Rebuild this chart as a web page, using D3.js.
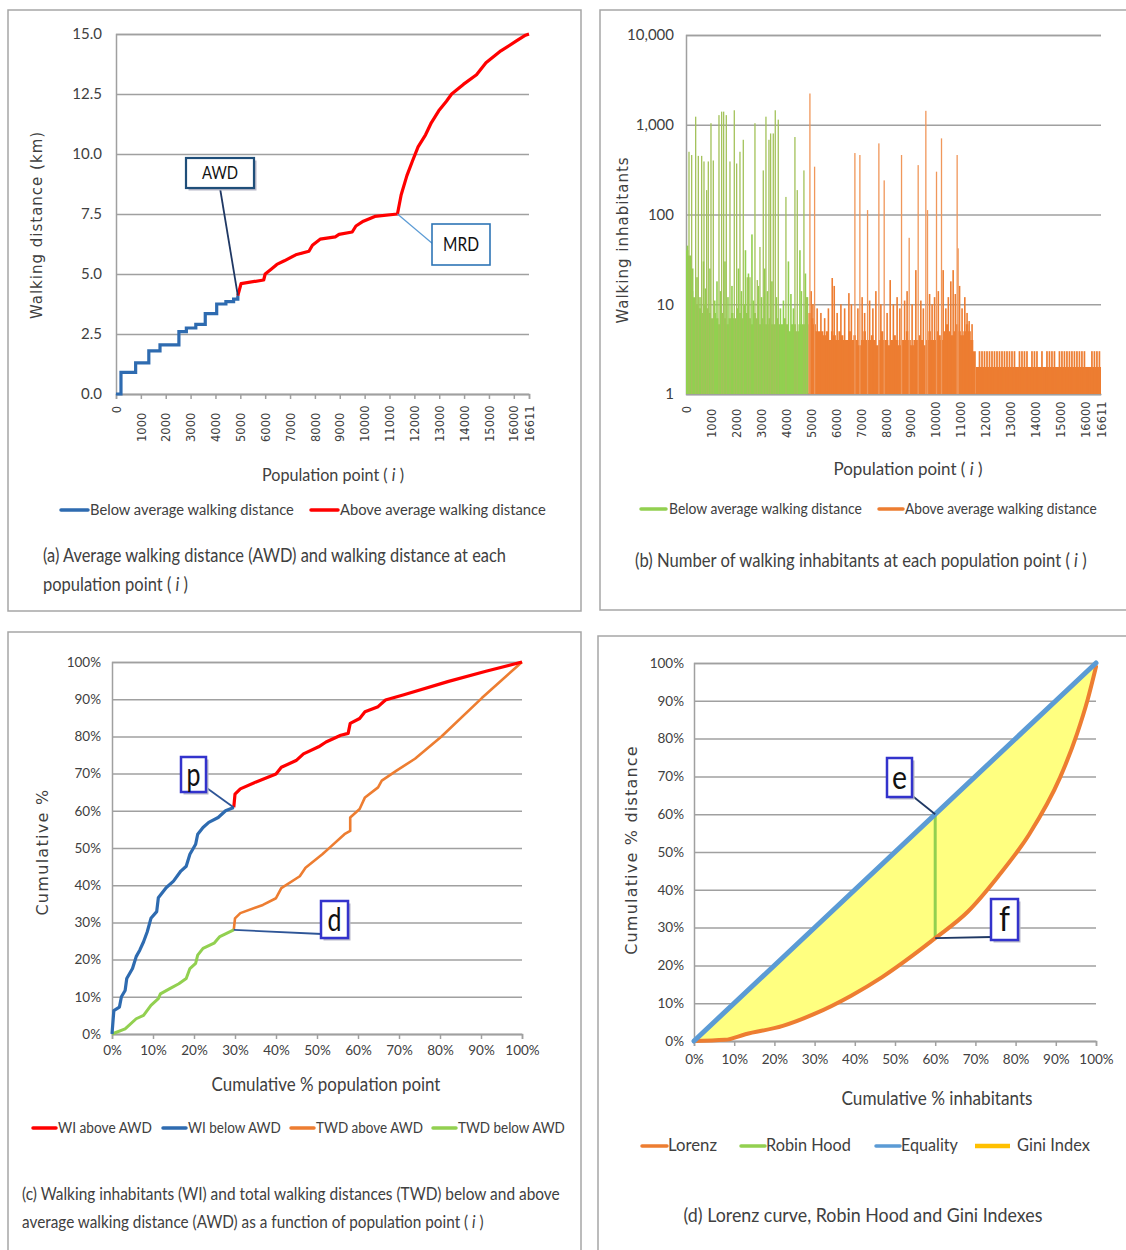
<!DOCTYPE html>
<html><head><meta charset="utf-8">
<script src="https://cdn.jsdelivr.net/npm/d3@7"></script>
<style>body{margin:0;background:#fff} svg{display:block}</style>
</head><body>
<svg id="c" width="1126" height="1250"></svg>
<script>
// ================= DATA =================
// Panel (a): walking distance at each population point
const popTicks = [0,1000,2000,3000,4000,5000,6000,7000,8000,9000,10000,11000,12000,13000,14000,15000,16000,16611];
const distTicks = [0,2.5,5,7.5,10,12.5,15];
const belowPoint = [0,200,790,1320,1770,2530,2830,3210,3590,4050,4420,4730,4900];
const belowDist  = [0,0.9,1.3,1.8,2.05,2.6,2.75,2.9,3.35,3.75,3.85,3.95,4.1];
const abovePoint = [4900,5030,5940,6000,6240,6470,6770,7230,7760,7900,8210,8820,8970,9500,9650,9950,10410,11320,11470,11700,11920,12150,12450,12680,12980,13290,13500,13970,14500,14880,15480,16090,16470,16611];
const aboveDist  = [4.1,4.6,4.75,5.0,5.2,5.4,5.55,5.8,5.95,6.2,6.45,6.55,6.65,6.75,7.0,7.2,7.4,7.5,8.3,9.1,9.7,10.3,10.8,11.3,11.8,12.2,12.5,12.9,13.3,13.8,14.3,14.7,14.95,15.0];
const awdPoint = 4900, awdDist = 4.1, mrdPoint = 11320, mrdDist = 7.5;

// Panel (b): walking inhabitants (log scale)
const inhabTicks = [1,10,100,1000,10000];
const binStep = 100;
const greenBaseStart = 0;
const greenBase = [40,35,25,12,10,9,8,10,9,8, 7,8,7,6,8,7,6,7,8,7, 9,8,7,10,8,7,6,8,7,6, 7,6,6,7,6,6,7,6,6,7, 6,5,6,6,5,6,6,6,6];
const greenTallIdx = [120,227,387,493,627,720,827,893,1000,1093,1320,1427,1507,1613,1760,1933,2027,2160,2293,2453,2560,2760,2853,2960,3093,3200,3320,3387,3493,3573,3693,4000,4360,4453,4720,4827];
const greenTallVal = [500,460,1230,450,450,390,187,390,1040,400,1280,1400,1400,1280,390,1450,370,500,680,20,20,1040,18.6,43.5,310,1230,680,800,800,1450,1140,157,730,187,310,12];
const greenMidIdx = [60,160,260,440,560,700,780,960,1150,1240,1380,1560,1680,1840,2100,2220,2380,2500,2640,2700,2900,3020,3150,3260,3440,3620,3780,3900,4100,4200,4300,4560,4620,4780,4860];
const greenMidVal = [45,25,14,20,12,30,15,25,11,18,14,30,12,16,25,14,40,22,60,11,16,12,25,14,18,12,9,11,30,13,9,40,14,22,12];
const orangeBaseStart = 4900;
const orangeBase = [8,7,6,5,5,5,4.5,5,4,5, 4.5,4,5,4.5,4,4,5,4,4.5,4, 3.5,4,5,4,4,4.5,4,3.5,4,5, 4,4,3.5,4,4.5,4,3.5,4,4,5, 4,3.5,4,4,4.5,4,3.5,4,5,4, 4,5,4.5,4,5,6,5,4.5,5,6, 5,4.5,5,6,5,4,3];
const orangeTallIdx = [4960,5147,6760,6960,7267,7720,7933,8627,8933,9293,9600,9667,10027,10227,10853,10893];
const orangeTallVal = [2230,341,484,460,112,620,240,460,55,355,1430,112,300,705,460,42];
const orangeMidIdx = [5010,5080,5250,5400,5550,5700,5853,5933,6050,6200,6350,6520,6620,6880,7050,7150,7350,7480,7600,7800,8050,8173,8300,8450,8560,8750,8850,9050,9200,9400,9500,9750,9850,9950,10100,10293,10400,10500,10600,10693,10780,10950,11050,11160,11250,11333,11450];
const orangeMidVal = [14,10,9,8,7,9,19.6,16,8,10,9,13.3,10,9,12,8,11,9,14,10,8,18.6,10,12,9,11,14,10,24,11,9,13,10,12,14,24,9,12,18,24,13,16,9,12,8,6.5,6];
const tailStart = 11600, tailEnd = 16611, tailFloor = 2;
const tailTop = [2,3,3,3,3,3,3,3,3,3, 3,3,3,3,3,3,2,3,3,3, 3,2,3,3,3,2,3,2,3,3, 3,3,2,3,3,3,3,3,3,3, 3,3,3,3,2,2,3,3,3,3];

// Panel (c): cumulative %
const pctTicks = [0,10,20,30,40,50,60,70,80,90,100];
const wiBelowX = [0,0.45,1.8,2.3,3.2,3.6,5,5.9,6.8,7.7,8.6,9.5,10.9,11.3,13.2,15,16.8,18.1,19,20.4,20.9,22.2,23.6,25.9,27.7,29.7];
const wiBelowY = [0,6.3,7.2,10,11.7,14.9,17.6,20.8,22.6,24.8,27.5,31.1,32.9,36.6,39.3,41.1,43.8,45.1,48.3,51,53.7,55.5,56.9,58.2,60,60.9];
const wiAboveX = [29.7,30,31.3,35,40,41.3,44.9,46.7,50.4,52.2,55.8,57.6,58.1,60.4,61.7,64.9,66.7,71.2,82.1,91.2,100];
const wiAboveY = [60.9,64.5,65.9,67.7,69.9,71.7,73.5,75.3,77.2,78.5,80.3,80.8,83.5,84.8,86.6,88,89.8,91.2,94.8,97.5,100];
const twdBelowX = [0,3.2,5.9,7.7,9.5,11.3,11.8,14.1,16.3,18.1,19,20.4,20.9,22.2,24.9,26.3,29.7];
const twdBelowY = [0,1.4,4.1,5,7.7,9.5,10.8,12.2,13.5,14.9,17.6,19,21.2,23,24.4,26.2,28];
const twdAboveX = [29.7,30,31.3,36.8,40,41.3,45.8,47.2,51.3,53.1,56.7,58.1,58.1,60.4,61.7,64.9,65.8,69.4,73.9,80.3,90.2,100];
const twdAboveY = [28,31.1,32.5,34.7,36.5,39.2,42.4,44.7,48.3,50.1,53.7,54.6,58.2,60.5,63.6,66.3,68.1,70.8,74,79.9,90.3,100];

// Panel (d): Lorenz / Robin Hood / Equality
const lorenzX = [0,7.7,12.8,22.1,29.8,39.1,46.8,54.5,60,68.1,75.7,83.4,91.1,95.3,97.9,100];
const lorenzY = [0,0.3,1.8,4,7.1,12,16.9,22.7,27.2,34.2,43.6,54.7,69.8,81.3,90.2,99];
const equalityX = [0,100], equalityY = [0,100];
const robinHoodX = [60,60], robinHoodY = [60,27.2];

// ================= DRAWING =================
const svg = d3.select('#c');
const NARROW = "Lato,'Liberation Sans',sans-serif";
const DEJ = "'DejaVu Sans',Verdana,sans-serif";
const TXT = '#404040';
const GRID = '#a0a0a0';
const zip = (a,b) => a.map((v,i)=>[v,b[i]]);

function frame(x,y,w,h){
  svg.append('rect').attr('x',x).attr('y',y).attr('width',w).attr('height',h)
    .attr('fill','none').attr('stroke','#a6a6a6').attr('stroke-width',1.5);
}
frame(8,10,573,601); frame(600,10,540,600); frame(8,632,573,650); frame(598,636,540,650);

// text helper: optional target width (len) achieved by horizontal condensing
function text(x,y,str,o={}){
  const g = svg.append('g');
  const t = g.append('text').attr('x',0).attr('y',0)
    .attr('font-family',o.font||NARROW).attr('font-size',o.size||15)
    .attr('fill',o.fill||TXT).attr('text-anchor',o.anchor||'start');
  if(o.spacing) t.attr('letter-spacing',o.spacing);
  if(o.weight) t.attr('font-weight',o.weight);
  if(Array.isArray(str)){
    str.forEach(s=>{
      if(typeof s==='string') t.append('tspan').text(s);
      else t.append('tspan').attr('font-style','italic').text(s.t);
    });
  } else t.text(str);
  let tr = `translate(${x},${y})`;
  if(o.rotate) tr += ` rotate(${o.rotate})`;
  if(o.len){ const w = t.node().getComputedTextLength(); if(w>0) tr += ` scale(${o.len/w},1)`; }
  g.attr('transform',tr);
  return t;
}
function legendItem(x1,x2,y,color,label,tx,o={}){
  svg.append('line').attr('x1',x1).attr('x2',x2).attr('y1',y).attr('y2',y)
    .attr('stroke',color).attr('stroke-width',o.w||3.5).attr('stroke-linecap','round');
  text(tx,y+5,label,{size:o.size||16,len:o.len});
}
function styleAxis(g){
  g.select('.domain').attr('stroke',GRID).attr('stroke-width',1.5);
  g.selectAll('.tick line').attr('stroke',GRID).attr('stroke-width',1.5);
  g.selectAll('text').attr('fill',TXT);
}
function rotLabels(g,bottomY,axisY){
  g.selectAll('.tick text').each(function(d,i){
    const t=d3.select(this);
    t.attr('y',0).attr('x',0).attr('dy','0.36em')
     .attr('font-family',DEJ).attr('font-size',11.5);
    if(d===0){ t.attr('text-anchor','end').attr('transform',`translate(0,${axisY+12}) rotate(-90)`); }
    else { t.attr('text-anchor','start').attr('transform',`translate(0,${bottomY}) rotate(-90)`); }
  });
}
function box(x,y,w,h,label,o){
  if(o.shadow) svg.append('rect').attr('x',x+2.5).attr('y',y+2.5).attr('width',w).attr('height',h).attr('fill','#b8b8c8');
  svg.append('rect').attr('x',x).attr('y',y).attr('width',w).attr('height',h)
    .attr('fill','#fff').attr('stroke',o.stroke).attr('stroke-width',o.sw);
  text(x+w/2,y+h/2+o.size*0.35,label,{anchor:'middle',size:o.size,fill:'#111',font:o.font||NARROW,weight:o.weight,len:o.len});
}
function leader(x1,y1,x2,y2,color,w){
  svg.append('line').attr('x1',x1).attr('y1',y1).attr('x2',x2).attr('y2',y2)
    .attr('stroke',color).attr('stroke-width',w);
}
function tickFont(g){ g.selectAll('.tick text').attr('font-family',NARROW).attr('font-size',13.5); }

// ---------- Panel (a) ----------
{
  const x = d3.scaleLinear().domain([0,16611]).range([116,529]);
  const y = d3.scaleLinear().domain([0,15]).range([394,34]);
  const gy = svg.append('g').attr('transform','translate(116,0)')
    .call(d3.axisLeft(y).tickValues(distTicks).tickFormat(d3.format('.1f')).tickSize(-(529-116)).tickPadding(14));
  styleAxis(gy); gy.selectAll('text').attr('font-family',NARROW).attr('font-size',15);
  const gx = svg.append('g').attr('transform','translate(0,394)')
    .call(d3.axisBottom(x).tickValues(popTicks).tickFormat(d3.format('d')).tickSize(5));
  styleAxis(gx); rotLabels(gx,48,0);
  svg.append('path').datum(zip(belowPoint,belowDist)).attr('d',d3.line().curve(d3.curveStepAfter).x(d=>x(d[0])).y(d=>y(d[1])))
    .attr('fill','none').attr('stroke','#2E6BB0').attr('stroke-width',3.2);
  svg.append('path').datum(zip(abovePoint,aboveDist)).attr('d',d3.line().x(d=>x(d[0])).y(d=>y(d[1])))
    .attr('fill','none').attr('stroke','#FF0000').attr('stroke-width',3.2).attr('stroke-linejoin','round');
  // annotations
  leader(220,188,x(awdPoint),y(awdDist),'#1F3864',1.8);
  box(186,158,68,30,'AWD',{stroke:'#1F4E79',sw:2.2,size:18,shadow:true,len:36});
  leader(x(mrdPoint),y(mrdDist),433,244,'#5B9BD5',1.2);
  box(432,224,58,41,'MRD',{stroke:'#2E75B6',sw:1.6,size:19,shadow:false,len:36});
  text(42,225,'Walking distance (km)',{font:DEJ,size:15,spacing:1,rotate:-90,anchor:'middle'});
  text(333,481,['Population point ( ',{t:'i'},' )'],{size:18,anchor:'middle',len:142});
  legendItem(61,88,510,'#2E6BB0','Below average walking distance',90,{len:204});
  legendItem(311,338,510,'#FF0000','Above average walking distance',340,{len:206});
  text(43,562,'(a) Average walking distance (AWD) and walking distance at each',{size:19,len:463});
  text(43,591,['population point ( ',{t:'i'},' )'],{size:19,len:145});
}

// ---------- Panel (b) ----------
{
  const x = d3.scaleLinear().domain([0,16611]).range([686,1101]);
  const y = d3.scaleLog().domain([1,10000]).range([394,35]);
  const gy = svg.append('g').attr('transform','translate(686,0)')
    .call(d3.axisLeft(y).tickValues(inhabTicks).tickFormat(d3.format(',')).tickSize(-(1101-686)).tickPadding(12));
  styleAxis(gy); gy.selectAll('text').attr('font-family',NARROW).attr('font-size',15);
  const gx = svg.append('g').attr('transform','translate(0,394)')
    .call(d3.axisBottom(x).tickValues(popTicks).tickFormat(d3.format('d')).tickSize(0));
  styleAxis(gx); rotLabels(gx,44,0);

  const GREEN='#92D050', GREEN_S='#A3C25A', ORANGE='#ED7D31', ORANGE_S='#F0975A';
  const stepArea = (start,vals,end) => {
    const pts = vals.map((v,i)=>[start+i*binStep,v]); pts.push([end,vals[vals.length-1]]);
    return d3.area().curve(d3.curveStepAfter).x(d=>x(d[0])).y0(y(1)).y1(d=>y(d[1]))(pts);
  };
  const spikes = (idx,vals,color,w) => {
    svg.append('g').selectAll('rect').data(zip(idx,vals)).join('rect')
      .attr('x',d=>x(d[0])-w/2).attr('width',w)
      .attr('y',d=>y(d[1])).attr('height',d=>y(1)-y(d[1])).attr('fill',color);
  };
  svg.append('path').attr('d',stepArea(greenBaseStart,greenBase,orangeBaseStart)).attr('fill',GREEN);
  spikes(greenMidIdx,greenMidVal,GREEN,1.6);
  spikes(greenTallIdx,greenTallVal,GREEN_S,1.3);
  svg.append('path').attr('d',stepArea(orangeBaseStart,orangeBase,tailStart)).attr('fill',ORANGE);
  spikes(orangeMidIdx,orangeMidVal,ORANGE,1.6);
  spikes(orangeTallIdx,orangeTallVal,ORANGE_S,1.3);
  // tail: floor plus comb of bars
  svg.append('rect').attr('x',x(tailStart)).attr('width',x(tailEnd)-x(tailStart))
    .attr('y',y(tailFloor)).attr('height',y(1)-y(tailFloor)).attr('fill',ORANGE);
  const bw = x(binStep)-x(0);
  svg.append('g').selectAll('rect').data(tailTop.map((v,i)=>[tailStart+i*binStep,v])).join('rect')
    .attr('x',d=>x(d[0])+0.35).attr('width',bw-0.8)
    .attr('y',d=>y(d[1])).attr('height',d=>y(1)-y(d[1])).attr('fill',ORANGE);

  text(628,240,'Walking inhabitants',{font:DEJ,size:15,spacing:1,rotate:-90,anchor:'middle'});
  text(908,475,['Population point (  ',{t:'i'},' )'],{size:18,anchor:'middle',len:149});
  legendItem(641,666,509,GREEN,'Below average walking distance',669,{len:193});
  legendItem(879,903,509,ORANGE,'Above average walking distance',905,{len:192});
  text(635,567,['(b)  Number of walking inhabitants at each population point ( ',{t:'i'},' )'],{size:19,len:452});
}

// ---------- Panel (c) ----------
{
  const x = d3.scaleLinear().domain([0,100]).range([112,522]);
  const y = d3.scaleLinear().domain([0,100]).range([1034,662]);
  const fmt = d=>d+'%';
  const gy = svg.append('g').attr('transform','translate(112,0)')
    .call(d3.axisLeft(y).tickValues(pctTicks).tickFormat(fmt).tickSize(-(522-112)).tickPadding(11));
  styleAxis(gy); tickFont(gy);
  const gx = svg.append('g').attr('transform','translate(0,1034)')
    .call(d3.axisBottom(x).tickValues(pctTicks).tickFormat(fmt).tickSize(5).tickPadding(6));
  styleAxis(gx); tickFont(gx);
  const line = d3.line().x(d=>x(d[0])).y(d=>y(d[1]));
  const draw=(xs,ys,c,w)=>svg.append('path').datum(zip(xs,ys)).attr('d',line)
    .attr('fill','none').attr('stroke',c).attr('stroke-width',w).attr('stroke-linejoin','round');
  draw(twdAboveX,twdAboveY,'#ED7D31',2.6);
  draw(twdBelowX,twdBelowY,'#92D050',3);
  draw(wiAboveX,wiAboveY,'#FF0000',3.2);
  draw(wiBelowX,wiBelowY,'#2E6BB0',3.2);
  // labels
  leader(204,786,x(wiBelowX[wiBelowX.length-1]),y(wiBelowY[wiBelowY.length-1]),'#2E5597',1.8);
  box(181,757,25,35,'p',{stroke:'#3333CC',sw:2.5,size:32,shadow:true,len:14});
  leader(322,934,x(twdBelowX[twdBelowX.length-1]),y(twdBelowY[twdBelowY.length-1]),'#2E5597',1.8);
  box(321,901,27,37,'d',{stroke:'#3333CC',sw:2.5,size:32,shadow:true,len:14});
  text(48,852,'Cumulative %',{font:DEJ,size:16,spacing:1.3,rotate:-90,anchor:'middle'});
  text(326,1091,'Cumulative % population point',{size:20,anchor:'middle',len:229});
  legendItem(33,56,1128,'#FF0000','WI above AWD',58,{len:94,size:16});
  legendItem(163,186,1128,'#2E6BB0','WI below AWD',188,{len:93,size:16});
  legendItem(291,314,1128,'#ED7D31','TWD above AWD',316,{len:107,size:16});
  legendItem(433,456,1128,'#92D050','TWD below AWD',458,{len:107,size:16});
  text(22,1200,'(c)  Walking inhabitants (WI)  and total walking distances (TWD) below and above',{size:18,len:538});
  text(22,1228,['average walking distance (AWD)  as a function  of population point ( ',{t:'i'},' )'],{size:18,len:462});
}

// ---------- Panel (d) ----------
{
  const x = d3.scaleLinear().domain([0,100]).range([694,1096]);
  const y = d3.scaleLinear().domain([0,100]).range([1041,663]);
  const fmt = d=>d+'%';
  const gy = svg.append('g').attr('transform','translate(694,0)')
    .call(d3.axisLeft(y).tickValues(pctTicks).tickFormat(fmt).tickSize(-(1096-694)).tickPadding(10));
  styleAxis(gy); tickFont(gy);
  const gx = svg.append('g').attr('transform','translate(0,1041)')
    .call(d3.axisBottom(x).tickValues(pctTicks).tickFormat(fmt).tickSize(5).tickPadding(8));
  styleAxis(gx); tickFont(gx);
  const eq = d3.scaleLinear().domain(equalityX).range(equalityY);
  const lor = zip(lorenzX,lorenzY);
  svg.append('path').datum(lor)
    .attr('d',d3.area().curve(d3.curveMonotoneX).x(d=>x(d[0])).y0(d=>y(d[1])).y1(d=>y(eq(d[0]))))
    .attr('fill','#FFFF80');
  svg.append('path').datum(zip(robinHoodX,robinHoodY)).attr('d',d3.line().x(d=>x(d[0])).y(d=>y(d[1])))
    .attr('stroke','#92D050').attr('stroke-width',3).attr('fill','none');
  svg.append('path').datum(lor).attr('d',d3.line().curve(d3.curveMonotoneX).x(d=>x(d[0])).y(d=>y(d[1])))
    .attr('stroke','#ED7D31').attr('stroke-width',4).attr('fill','none').attr('stroke-linecap','round');
  svg.append('path').datum(zip(equalityX,equalityY)).attr('d',d3.line().x(d=>x(d[0])).y(d=>y(d[1])))
    .attr('stroke','#5B9BD5').attr('stroke-width',5).attr('fill','none').attr('stroke-linecap','round');
  leader(910,794,x(robinHoodX[0]),y(robinHoodY[0]),'#1F3864',1.8);
  box(887,758,25,39,'e',{stroke:'#3333CC',sw:2.5,size:32,shadow:true,len:15});
  leader(x(robinHoodX[1]),y(robinHoodY[1]),992,937,'#1F3864',1.8);
  box(991,899,27,41,'f',{stroke:'#3333CC',sw:2.5,size:34,shadow:true,len:11});
  text(637,850,'Cumulative % distance',{font:DEJ,size:16,spacing:1.2,rotate:-90,anchor:'middle'});
  text(937,1105,'Cumulative % inhabitants',{size:20,anchor:'middle',len:191});
  legendItem(642,667,1146,'#ED7D31','Lorenz',668,{len:49,size:18});
  legendItem(741,765,1146,'#92D050','Robin Hood',766,{len:85,size:18});
  legendItem(876,900,1146,'#5B9BD5','Equality',901,{len:57,size:18});
  svg.append('line').attr('x1',975).attr('x2',1010).attr('y1',1146).attr('y2',1146)
    .attr('stroke','#FFC000').attr('stroke-width',4.5);
  text(1017,1151,'Gini Index',{size:18,len:73});
  text(863,1222,'(d) Lorenz curve, Robin Hood and Gini Indexes',{size:20,anchor:'middle',len:359});
}
</script></body></html>
